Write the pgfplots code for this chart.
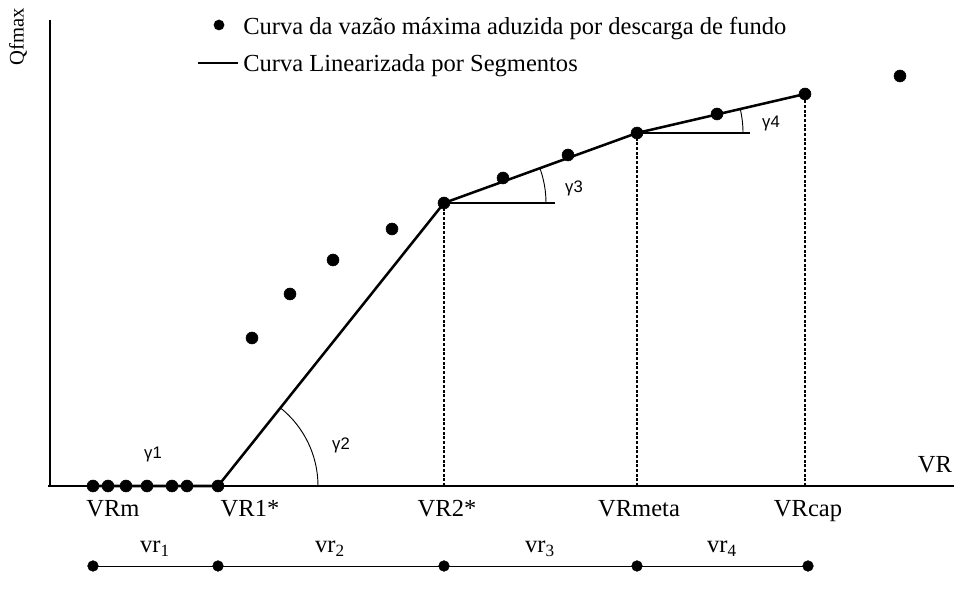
\documentclass[border=0pt]{standalone}
\usepackage{fontspec}
\setmainfont{Liberation Serif}
\newfontfamily\sansg{Liberation Sans}
\usepackage{pgfplots}
\pgfplotsset{compat=1.18}
\begin{document}
\begin{tikzpicture}
\begin{axis}[x=0.75pt,y=0.75pt,xmin=0,xmax=954,ymin=0,ymax=600,hide axis,clip=false]
% corners for bounding box
\coordinate (BL) at (axis cs:0,0);
\coordinate (TR) at (axis cs:954,600);
% axis lines
\addplot[black,line width=1.1pt] coordinates {(50,580) (50,114)};
\addplot[black,line width=1.1pt] coordinates {(48,114) (954,114)};
% dashed verticals
\addplot[black,line width=0.8pt,dash pattern=on 2.2pt off 1.3pt] coordinates {(444,114) (444,397)};
\addplot[black,line width=0.8pt,dash pattern=on 2.2pt off 1.3pt] coordinates {(637,114) (637,467)};
\addplot[black,line width=0.8pt,dash pattern=on 2.2pt off 1.3pt] coordinates {(805,114) (805,506)};
% horizontal references
\addplot[black,line width=1.4pt] coordinates {(444,397) (555,397)};
\addplot[black,line width=1.4pt] coordinates {(637,467) (750,467)};
% angle arcs
\draw[black,line width=0.7pt] (axis cs:318,114) arc[start angle=0,end angle=51.4,radius=75pt];
\draw[black,line width=0.7pt] (axis cs:546,397) arc[start angle=0,end angle=19.9,radius=76.5pt];
\draw[black,line width=0.7pt] (axis cs:743,467) arc[start angle=0,end angle=13.1,radius=79.5pt];
% linearized curve
\addplot[black,line width=1.9pt] coordinates {(93,114) (218,114) (444,397) (637,467) (805,506)};
% points of the curve
\addplot[only marks,mark=*,mark size=4.5pt,black] coordinates {
(93,114) (108,114) (126,114) (147,114) (172,114) (187,114) (218,114)
(252,262) (290,306) (333,340) (392,371) (444,397) (503,422) (568,445)
(637,467) (717,486) (805,506) (900,524)};
% legend
\addplot[only marks,mark=*,mark size=3.8pt,black] coordinates {(219,575)};
\addplot[black,line width=1.9pt] coordinates {(198,537) (238,537)};
\node[anchor=base west,inner sep=0pt,font=\fontsize{18.4}{20}\selectfont] at (axis cs:243,565) {Curva da vazão máxima aduzida por descarga de fundo};
\node[anchor=base west,inner sep=0pt,font=\fontsize{18.4}{20}\selectfont] at (axis cs:243,528) {Curva Linearizada por Segmentos};
% y label
\node[rotate=90,inner sep=0pt,font=\fontsize{15.5}{17}\selectfont] at (axis cs:18,563) {Qfmax};
% x labels
\node[anchor=base,inner sep=0pt,font=\fontsize{18.4}{20}\selectfont] at (axis cs:935,127) {VR};
\node[anchor=base,inner sep=0pt,font=\fontsize{18.4}{20}\selectfont] at (axis cs:113,83) {VRm};
\node[anchor=base,inner sep=0pt,font=\fontsize{18.4}{20}\selectfont] at (axis cs:250,83) {VR1*};
\node[anchor=base,inner sep=0pt,font=\fontsize{18.4}{20}\selectfont] at (axis cs:447,83) {VR2*};
\node[anchor=base,inner sep=0pt,font=\fontsize{18.4}{20}\selectfont] at (axis cs:639,83) {VRmeta};
\node[anchor=base,inner sep=0pt,font=\fontsize{18.4}{20}\selectfont] at (axis cs:808,83) {VRcap};
% gamma labels
\node[inner sep=0pt,font=\sansg\fontsize{12.5}{15}\selectfont] at (axis cs:153,146) {γ1};
\node[inner sep=0pt,font=\sansg\fontsize{12.5}{15}\selectfont] at (axis cs:341,155) {γ2};
\node[inner sep=0pt,font=\sansg\fontsize{12.5}{15}\selectfont] at (axis cs:574,412) {γ3};
\node[inner sep=0pt,font=\sansg\fontsize{12.5}{15}\selectfont] at (axis cs:771,477) {γ4};
% vr segment line
\addplot[black,line width=0.7pt] coordinates {(93,34) (808,34)};
\addplot[only marks,mark=*,mark size=4pt,black] coordinates {(93,34) (218,34) (444,34) (637,34) (808,34)};
\node[anchor=base,inner sep=0pt,font=\fontsize{18.4}{20}\selectfont] at (axis cs:155,47) {vr\textsubscript{1}};
\node[anchor=base,inner sep=0pt,font=\fontsize{18.4}{20}\selectfont] at (axis cs:330,47) {vr\textsubscript{2}};
\node[anchor=base,inner sep=0pt,font=\fontsize{18.4}{20}\selectfont] at (axis cs:540,47) {vr\textsubscript{3}};
\node[anchor=base,inner sep=0pt,font=\fontsize{18.4}{20}\selectfont] at (axis cs:722,47) {vr\textsubscript{4}};
\end{axis}
\pgfresetboundingbox
\path[use as bounding box] (BL) rectangle (TR);
\end{tikzpicture}
\end{document}
